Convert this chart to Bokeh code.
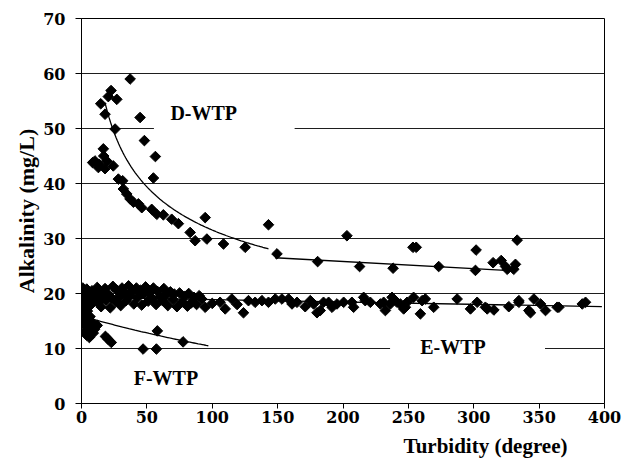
import numpy as np
from bokeh.plotting import figure
from bokeh.models import Label, BoxAnnotation, FixedTicker, Range1d, Title
from bokeh.embed import file_html
from bokeh.resources import INLINE

# Axis ticks
x_ticks = [0, 50, 100, 150, 200, 250, 300, 350, 400]
y_ticks = [0, 10, 20, 30, 40, 50, 60, 70]

# D-WTP observations: turbidity (degree), alkalinity (mg/L)
d_turb = [14.7, 18.0, 22.6, 20.5, 27.0, 37.2, 44.8, 25.7, 48.1, 56.5, 55.0,
          16.7, 10.3, 13.5, 19.3, 24.3, 18.0, 12.9, 17.0, 8.5,
          28.2, 31.5, 32.0, 34.6, 37.1, 39.7, 43.5, 46.1, 53.7, 57.6, 62.6,
          69.0, 74.1, 83.1, 86.9, 95.9, 94.6, 108.6, 125.2, 143.0, 149.5,
          180.6, 203.0, 212.7, 238.3, 253.5, 256.0, 273.2, 301.8, 301.3,
          314.8, 321.0, 324.3, 325.6, 330.6, 331.9, 333.2]
d_alk = [54.5, 52.6, 56.9, 55.8, 55.3, 59.0, 52.0, 49.9, 47.8, 44.9, 41.0,
         46.3, 44.1, 43.5, 44.1, 43.2, 42.7, 42.9, 45.0, 43.8,
         40.8, 40.5, 39.0, 38.1, 37.2, 36.6, 36.3, 35.6, 35.3, 34.4, 34.3,
         33.5, 32.7, 31.1, 29.6, 29.9, 33.8, 29.0, 28.4, 32.5, 27.2,
         25.8, 30.5, 24.9, 24.6, 28.4, 28.4, 24.9, 27.9, 24.2,
         25.6, 26.0, 24.9, 24.4, 24.4, 25.3, 29.7]

# E-WTP observations
e_turb = [1.0, 1.5, 2.0, 2.5, 3.0, 3.5, 4.0, 5.0, 6.0, 7.0, 8.0, 9.0, 10.5,
          12, 13, 14, 15, 16, 18, 19, 20, 22, 23, 24, 26, 27, 29, 30, 31,
          33, 34, 36, 37, 39, 40, 42, 43, 45, 46, 48, 49, 51, 52, 54, 55,
          57, 58, 60, 62, 63, 65, 66, 68, 70, 71, 73, 75, 77, 79, 81, 82,
          84, 86, 88, 90,
          92, 94.6, 100, 106, 109.9, 115, 119, 123.9, 127.7, 132.8, 138,
          143, 148.2, 153.3, 158.4, 161, 164.8, 171.1, 175, 177.5, 180.1,
          182.6, 185.1, 189, 191.6, 195.4, 200.5, 206.8, 208.1, 215.8,
          217, 220.9, 228.6, 231.1, 232.4, 236.2, 237.5, 241.3, 243.9,
          246.4, 249,
          254, 247.7, 260.5, 259.2, 263, 269.4, 287.3, 297.5, 302.6,
          308.9, 310.3, 315.4, 326.8, 334.5, 334.5, 342.1, 343.4, 346,
          351.1, 354.9, 363.8, 365.1, 383, 385.5]
e_alk = [21.0, 19.5, 18.2, 20.4, 17.5, 19.0, 20.8, 18.6, 19.8, 17.9, 20.5,
         18.9, 19.6, 21.1, 18.3, 20.2, 17.6, 19.4, 20.9, 18.8, 20.0, 17.4,
         19.2, 21.3, 18.5, 20.6, 19.5, 17.8, 21.0, 20.1, 18.7, 21.4, 19.6,
         20.3, 18.1, 21.0, 19.3, 20.6, 17.9, 19.9, 21.2, 18.6, 20.2, 19.1,
         21.0, 18.0, 20.4, 19.4, 18.7, 20.9, 19.8, 17.8, 20.3, 18.9, 19.9,
         17.6, 20.1, 18.5, 19.5, 17.7, 20.0, 18.3, 19.3, 18.0, 19.6,
         19.0, 17.5, 18.2, 18.4, 17.2, 19.0, 18.0, 16.5, 18.7, 18.4, 18.7,
         18.4, 19.0, 19.0, 19.0, 18.1, 18.4, 17.6, 18.7, 18.1, 16.5,
         16.9, 18.4, 18.4, 17.5, 18.1, 18.4, 18.4, 17.5, 19.3,
         18.7, 18.4, 18.1, 18.4, 16.9, 18.1, 19.3, 18.4, 18.1,
         17.2, 18.4,
         19.3, 17.5, 18.7, 16.3, 19.0, 17.5, 19.0, 17.2, 18.4,
         17.5, 17.2, 17.0, 17.6, 18.4, 18.7, 16.9, 16.5, 19.0,
         18.1, 16.9, 17.5, 17.5, 18.1, 18.4]

# F-WTP observations
f_turb = [1.0, 1.5, 2.0, 2.5, 3.0, 3.5, 4.0, 4.5, 5.0, 5.5, 6.0, 6.5, 7.0,
          8.0, 9.0, 10.0, 12.0, 18.3, 20.3, 22.8, 47.1, 57.3, 58.0, 77.7]
f_alk = [17.0, 15.5, 14.2, 16.3, 13.0, 15.0, 12.4, 16.8, 14.0, 13.2, 12.0,
         15.8, 13.6, 14.8, 12.8, 13.5, 14.2, 12.2, 11.7, 11.1, 9.9, 9.9,
         13.2, 11.2]

# Fitted trend lines (coefficients and fitted ranges)
d_pow_a, d_pow_b, d_pow_range = 138.3, -0.321, (18, 143)
d_lin_c0, d_lin_c1, d_lin_range = 28.43, -0.01304, (148, 332)
e_lin_c0, e_lin_c1, e_lin_range = 19.3, -0.00425, (1, 398)
f_exp_a, f_exp_k, f_exp_range = 15.9, -0.00428, (5, 97)

p = figure(width=622, height=466, output_backend="svg", toolbar_location=None,
           x_range=Range1d(0, 400), y_range=Range1d(0, 70),
           min_border_left=81, min_border_right=18, min_border_top=18,
           min_border_bottom=63)
p.background_fill_color = "white"
p.border_fill_color = "white"
p.outline_line_color = "black"
p.outline_line_width = 1

p.xgrid.visible = False
p.ygrid.grid_line_color = "#1e1e1e"
p.ygrid.grid_line_width = 1

tick_font = "DejaVu Serif"
for ax, ticks in ((p.xaxis, x_ticks), (p.yaxis, y_ticks)):
    ax.ticker = FixedTicker(ticks=ticks)
    ax.minor_tick_line_color = None
    ax.major_tick_in = 0
    ax.axis_line_color = "black"
    ax.major_tick_line_color = "black"
    ax.major_label_text_font = tick_font
    ax.major_label_text_font_style = "bold"
    ax.major_label_text_font_size = "16px"
    ax.major_label_text_color = "black"
p.xaxis.major_tick_out = 5
p.xaxis.major_label_standoff = 2
p.yaxis.major_tick_out = 6
p.yaxis.major_label_standoff = 10

label_font = "Liberation Serif"

# Axis titles
p.yaxis.axis_label = "Alkalinity (mg/L)"
p.yaxis.axis_label_text_font = label_font
p.yaxis.axis_label_text_font_style = "bold"
p.yaxis.axis_label_text_font_size = "22px"
p.yaxis.axis_label_text_color = "black"
p.yaxis.axis_label_standoff = 1
p.add_layout(Title(text="Turbidity (degree)", align="right", offset=37,
                   standoff=13, text_font=label_font, text_font_style="bold",
                   text_font_size="21px", text_color="black"), "below")

# White boxes where the series labels interrupt the gridlines
for left, right, yc in ((55.4, 163, 50), (236, 354.5, 10)):
    p.add_layout(BoxAnnotation(left=left, right=right, bottom=yc - 1.2, top=yc + 1.2,
                               fill_color="white", fill_alpha=1.0,
                               line_color=None))

# Trend lines
xd1 = np.linspace(*d_pow_range, 120)
p.line(xd1, d_pow_a * xd1 ** d_pow_b, line_color="black", line_width=1.3)
xd2 = np.linspace(*d_lin_range, 2)
p.line(xd2, d_lin_c0 + d_lin_c1 * xd2, line_color="black", line_width=1.3)
xe = np.linspace(*e_lin_range, 2)
p.line(xe, e_lin_c0 + e_lin_c1 * xe, line_color="black", line_width=1.3)
xf = np.linspace(*f_exp_range, 60)
p.line(xf, f_exp_a * np.exp(f_exp_k * xf), line_color="black", line_width=1.3)

# Observations (diamonds)
for xs, ys in ((d_turb, d_alk), (e_turb, e_alk), (f_turb, f_alk)):
    p.scatter(xs, ys, marker="square", size=7.5, angle=np.pi / 4,
              fill_color="black", line_color="black")

def add_text(x, y, text):
    p.add_layout(Label(x=x, y=y, text=text, text_align="center",
                       text_baseline="middle", text_font=label_font,
                       text_font_style="bold", text_font_size="20px",
                       text_color="black"))

add_text(93.5, 52.8, "D-WTP")
add_text(284.1, 10.3, "E-WTP")
add_text(64.6, 4.7, "F-WTP")

open("out.html", "w").write(file_html(p, INLINE))
